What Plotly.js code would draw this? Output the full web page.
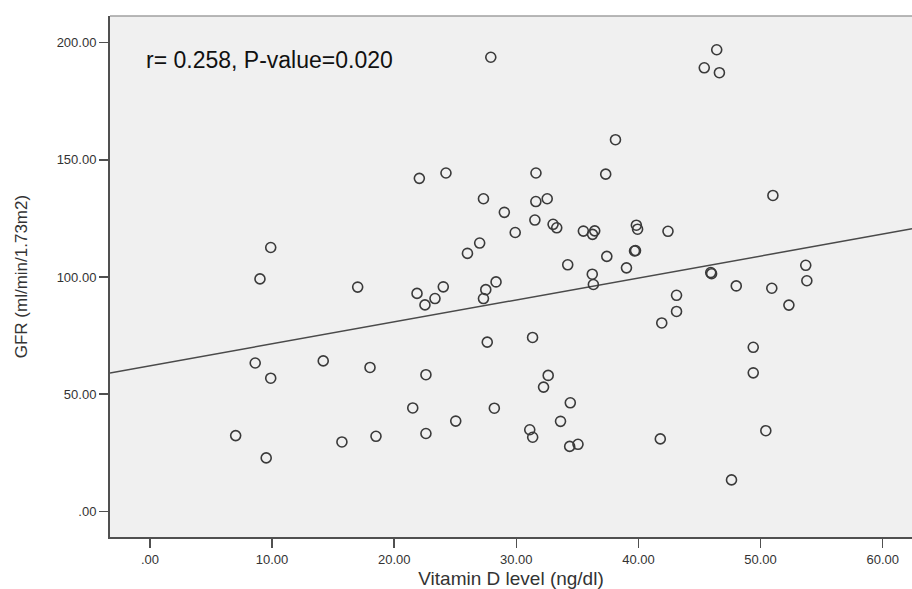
<!DOCTYPE html>
<html>
<head>
<meta charset="utf-8">
<script src="https://cdn.plot.ly/plotly-3.0.1.min.js"></script>
<style>html,body{margin:0;padding:0;background:#fff;}#chart{width:912px;height:589px;}</style>
</head>
<body>
<div id="chart"></div>
<script>
// Vitamin D level (ng/dl)
const vitaminD = [7.02, 9.52, 8.62, 9.89, 9.01, 9.89, 14.19, 15.72, 17.01, 18.02,
  18.51, 21.52, 22.06, 21.87, 22.52, 22.60, 22.60, 23.34, 24.02, 24.24,
  25.04, 26.00, 27.00, 27.31, 27.50, 27.31, 27.62, 27.91, 28.34, 28.20,
  29.02, 29.91, 31.33, 31.10, 31.34, 31.61, 31.60, 31.52, 32.53, 32.23,
  32.61, 33.01, 33.31, 33.62, 34.21, 34.42, 34.37, 35.05, 35.49, 36.22,
  36.24, 36.42, 36.31, 37.32, 37.41, 38.12, 39.02, 39.68, 39.76, 39.83,
  39.93, 42.42, 41.91, 41.79, 43.12, 43.12, 45.39, 46.41, 46.63, 45.92,
  45.99, 48.01, 47.62, 49.40, 49.40, 50.43, 51.01, 50.92, 52.32, 53.70, 53.79];
// GFR (ml/min/1.73m2)
const gfr = [32.3, 22.8, 63.3, 56.8, 99.2, 112.6, 64.2, 29.6, 95.7, 61.4,
  32.0, 44.1, 142.1, 93.0, 88.1, 58.3, 33.2, 90.8, 95.8, 144.4,
  38.5, 110.1, 114.5, 133.4, 94.6, 90.8, 72.2, 193.8, 97.9, 44.0,
  127.6, 119.0, 74.2, 34.8, 31.6, 144.4, 132.2, 124.3, 133.4, 53.0,
  58.0, 122.5, 121.0, 38.4, 105.2, 46.3, 27.7, 28.6, 119.6, 101.2,
  118.2, 119.7, 96.8, 143.9, 108.8, 158.6, 103.9, 111.1, 111.3, 122.1,
  120.4, 119.5, 80.4, 30.9, 92.2, 85.3, 189.3, 197.0, 187.2, 101.9,
  101.4, 96.2, 13.4, 70.0, 59.1, 34.4, 134.8, 95.2, 88.0, 105.0, 98.4];

// Fit line
const fitIntercept = 62.1;
const fitSlope = 0.937;

const xTickVals = [0, 10, 20, 30, 40, 50, 60];
const xTickText = ['.00', '10.00', '20.00', '30.00', '40.00', '50.00', '60.00'];
const yTickVals = [0, 50, 100, 150, 200];
const yTickText = ['.00', '50.00', '100.00', '150.00', '200.00'];

const xRange = [-3.27, 62.4];
const yRange = [-10.97, 211.4];

const statText = 'r= 0.258, P-value=0.020';
const xTitle = 'Vitamin D level (ng/dl)';
const yTitle = 'GFR (ml/min/1.73m2)';

const fitX = xRange.slice();
const fitY = fitX.map(x => fitIntercept + fitSlope * x);

const font = 'Arial, "Liberation Sans", sans-serif';

const traces = [
  {
    x: fitX, y: fitY, type: 'scatter', mode: 'lines',
    line: {color: '#4a4a4a', width: 1.5},
    hoverinfo: 'skip', showlegend: false, cliponaxis: true
  },
  {
    x: vitaminD, y: gfr, type: 'scatter', mode: 'markers',
    marker: {symbol: 'circle-open', size: 10, color: '#3a3a3a', line: {width: 1.6, color: '#3a3a3a'}},
    showlegend: false, cliponaxis: true
  }
];

const layout = {
  width: 912, height: 589,
  margin: {l: 110, r: 0, t: 16, b: 52},
  paper_bgcolor: '#ffffff',
  plot_bgcolor: '#f0f0f0',
  showlegend: false,
  xaxis: {
    range: xRange, tickvals: xTickVals, ticktext: xTickText,
    showgrid: false, zeroline: false,
    showline: true, linecolor: '#505050', linewidth: 2,
    ticks: 'outside', ticklen: 9, tickwidth: 1.5, tickcolor: '#505050',
    tickfont: {family: font, size: 13, color: '#333'},
    title: {text: xTitle, font: {family: font, size: 19, color: '#333'}, standoff: 14}
  },
  yaxis: {
    range: yRange, tickvals: yTickVals, ticktext: yTickText,
    showgrid: false, zeroline: false,
    showline: true, linecolor: '#505050', linewidth: 2,
    ticks: 'outside', ticklen: 9, tickwidth: 1.5, tickcolor: '#505050',
    tickfont: {family: font, size: 13, color: '#333'}
  },
  shapes: [
    {type: 'line', xref: 'paper', yref: 'paper', x0: 0, x1: 1, y0: 1, y1: 1,
     line: {color: '#a0a0a0', width: 1.5}}
  ],
  annotations: [
    {x: -0.45, y: 192.6, xref: 'x', yref: 'y', text: statText, showarrow: false,
     xanchor: 'left', yanchor: 'middle',
     font: {family: font, size: 23, color: '#111'}},
    {x: -0.11, y: 0.5, xref: 'paper', yref: 'paper', text: yTitle, showarrow: false,
     textangle: -90, xanchor: 'center', yanchor: 'middle',
     font: {family: font, size: 17, color: '#333'}}
  ]
};

Plotly.newPlot('chart', traces, layout, {displayModeBar: false, staticPlot: true});
</script>
</body>
</html>
